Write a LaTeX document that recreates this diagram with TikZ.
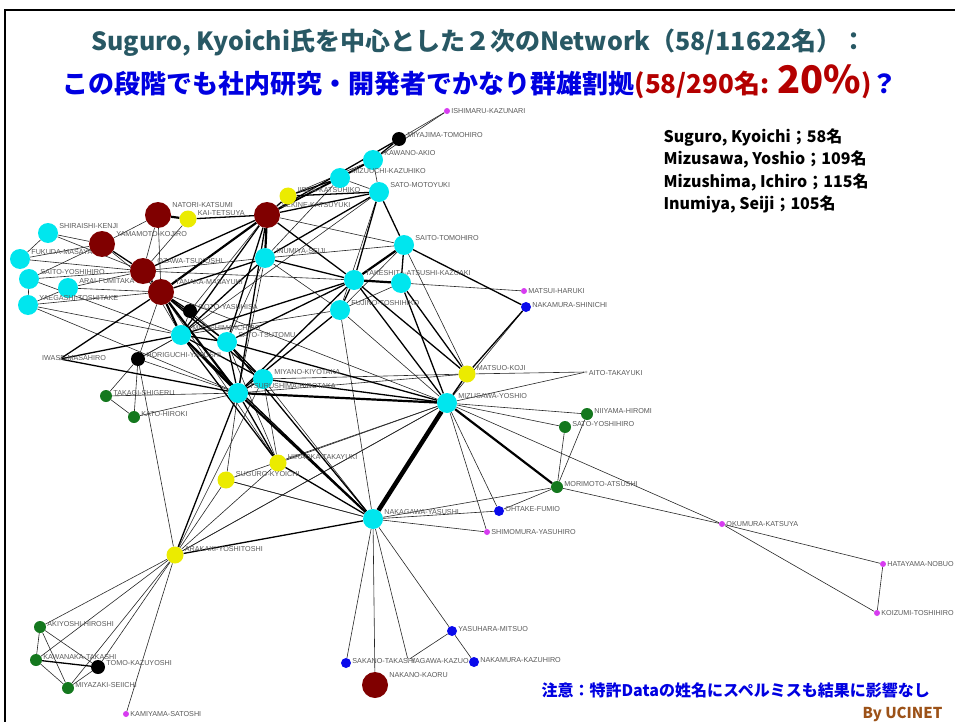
\documentclass[tikz,border=0pt]{standalone}
\usepackage{fontspec}
\newfontfamily\jpfont{Noto Sans CJK JP}
\newfontfamily\tagfont{Liberation Sans}
\usetikzlibrary{backgrounds}
\definecolor{headteal}{RGB}{40,88,100}
\definecolor{headblue}{RGB}{0,0,225}
\definecolor{headred}{RGB}{180,0,0}
\definecolor{bybrown}{RGB}{156,82,24}
\definecolor{dotmaroon}{RGB}{128,0,0}
\definecolor{dotyellow}{RGB}{235,235,0}
\definecolor{dotcyan}{RGB}{0,230,238}
\definecolor{dotgreen}{RGB}{20,120,30}
\definecolor{dotblue}{RGB}{10,10,235}
\definecolor{dotpink}{RGB}{215,60,240}
\begin{document}
\begin{tikzpicture}[x=1pt,y=-1pt,
    mrdot/.style={circle,fill=dotmaroon,inner sep=0pt,minimum size=26pt},
    yldot/.style={circle,fill=dotyellow,inner sep=0pt,minimum size=17pt},
    cydot/.style={circle,fill=dotcyan,inner sep=0pt,minimum size=20pt},
    bkdot/.style={circle,fill=black,inner sep=0pt,minimum size=14pt},
    grdot/.style={circle,fill=dotgreen,inner sep=0pt,minimum size=12pt},
    bldot/.style={circle,fill=dotblue,inner sep=0pt,minimum size=10pt},
    mgdot/.style={circle,fill=dotpink,inner sep=0pt,minimum size=6pt},
    ghdot/.style={circle,fill=black!25,inner sep=0pt,minimum size=3pt},
    tag/.style={font=\tagfont\fontsize{7.2}{7.2}\selectfont,text=black!65,inner sep=0pt,anchor=west},
    tie1/.style={line width=0.6pt,black!85},
    tie2/.style={line width=1.3pt},
    tie3/.style={line width=2.2pt},
    tie5/.style={line width=4.5pt}]
  \useasboundingbox (0,0) rectangle (955,722);
  \draw[line width=2.5pt] (5,722) -- (5,10) -- (955,10);

  % headings
  \node[font=\jpfont\bfseries\fontsize{25}{25}\selectfont,text=headteal] (head1) at (479,43)
    {Suguro, Kyoichi氏を中心とした２次のNetwork（58/11622名）：};
  \node[font=\jpfont\bfseries\fontsize{26}{26}\selectfont] (head2) at (480,82)
    {\color{headblue}この段階でも社内研究・開発者でかなり群雄割拠\color{headred}(58/290名: {\fontsize{38}{38}\selectfont 20\%})\color{headblue}？};
  \node[font=\jpfont\bfseries\fontsize{16}{22.5}\selectfont,align=left,anchor=north west] (key) at (660,125)
    {Suguro, Kyoichi；58名\\Mizusawa, Yoshio；109名\\Mizushima, Ichiro；115名\\Inumiya, Seiji；105名};

  % people
  \foreach \n/\x/\y/\s/\t in {
      m1/158/215/mrdot/NATORI-KATSUMI, m2/267/215/mrdot/SEKINE-KATSUYUKI,
      m3/102/244/mrdot/YAMAMOTO-KOJIRO, m4/143/271/mrdot/OZAWA-TSUYOSHI,
      m5/161/292/mrdot/TANAKA-MASAYUKI, m6/375/685/mrdot/NAKANO-KAORU,
      y1/188/219/yldot/KAI-TETSUYA, y2/288/196/yldot/IIEDA-KATSUHIKO,
      y3/467/374/yldot/MATSUO-KOJI, y4/278/463/yldot/HIRAOKA-TAKAYUKI,
      y5/226/480/yldot/SUGURO-KYOICHI, y6/175/555/yldot/ARAKAKI-YOSHITOSHI,
      c1/48/233/cydot/SHIRAISHI-KENJI, c2/20/259/cydot/FUKUDA-MASAYA,
      c3/29/279/cydot/SAITO-YOSHIHIRO, c4/68/288/cydot/ARAI-FUMITAKA,
      c5/28/305/cydot/YAEGASHI-TOSHITAKE, c6/373/160/cydot/KAWANO-AKIO,
      c7/340/178/cydot/MIZUUCHI-KAZUHIKO, c8/379/192/cydot/SATO-MOTOYUKI,
      c9/404/245/cydot/SAITO-TOMOHIRO, c10/265/258/cydot/INUMIYA-SEIJI,
      c11/354/280/cydot/TAKESHITA-ATSUSHI-KAZUAKI, c13/340/310/cydot/FUJINO-TOSHIHIKO,
      c14/181/335/cydot/MIZUSHIMA-ICHIRO, c15/227/342/cydot/SATO-TSUTOMU,
      c16/263/379/cydot/MIYANO-KIYOTAKA, c17/238/393/cydot/TSURUSHIMA-HIROTAKA,
      c18/447/403/cydot/MIZUSAWA-YOSHIO, c19/373/519/cydot/NAKAGAWA-YASUSHI,
      b1/399/139/bkdot/MIYAJIMA-TOMOHIRO, b2/190/311/bkdot/GOTO-YASUHISA,
      b3/138/359/bkdot/HORIGUCHI-YASUSHI, b4/98/667/bkdot/TOMO-KAZUYOSHI,
      g1/106/396/grdot/TAKAGI-SHIGERU, g2/134/417/grdot/KATO-HIROKI,
      g3/587/414/grdot/NIIYAMA-HIROMI, g4/565/427/grdot/SATO-YOSHIHIRO,
      g5/557/487/grdot/MORIMOTO-ATSUSHI, g6/40/627/grdot/AKIYOSHI-HIROSHI,
      g7/36/660/grdot/KAWANAKA-TAKASHI, g8/68/688/grdot/MIYAZAKI-SEIICHI,
      n1/526/307/bldot/NAKAMURA-SHINICHI, n2/499/511/bldot/OHTAKE-FUMIO,
      n3/452/631/bldot/YASUHARA-MITSUO, n4/346/663/bldot/SAKANO-TAKASHI,
      n5/474/662/bldot/NAKAMURA-KAZUHIRO,
      p1/447/111/mgdot/ISHIMARU-KAZUNARI, p2/524/291/mgdot/MATSUI-HARUKI,
      p3/487/532/mgdot/SHIMOMURA-YASUHIRO, p4/722/524/mgdot/OKUMURA-KATSUYA,
      p5/883/564/mgdot/HATAYAMA-NOBUO, p6/877/613/mgdot/KOIZUMI-TOSHIHIRO,
      p7/126/714/mgdot/KAMIYAMA-SATOSHI,
      h1/586/372/ghdot/AITO-TAKAYUKI, h2/408/660/ghdot/YAGAWA-KAZUO}
  {
    \node[\s] (\n) at (\x,\y) {};
    \path (\n.east |- \n.north) ++(1,3) node[tag] {\t};
  }
  \node[cydot] (c12) at (401,283) {};
  \node[ghdot] (iw) at (60,359) {};
  \node[tag] (iwtag) at (42,358) {IWASE-MASAHIRO};

  % ties
  \begin{pgfonlayer}{background}
    \foreach \a/\b in {p1/c6, c6/c8, c6/y2, c7/c8, c7/c10, c8/c13, c8/c14,
        c9/m2, c9/c10, c9/y3, c9/c13, c10/c15, c10/c13, c10/c17, c10/m4,
        c11/m4, c12/p2, c12/c13, c13/c14, c13/c18, c13/c19, m1/m4, m1/m3,
        m1/m5, y1/m4, m2/b2, m3/c1, m3/c2, m3/c3, m3/m5, m4/c2, m4/c3,
        m4/c4, m4/c14, m5/c4, m5/c5, m5/y4, m5/c18, c1/c2, c1/m4, c3/c5,
        c4/c5, c5/c14, c5/c17, c3/c14, b2/c14, b2/c15, c14/b3, c15/y4,
        b3/c17, b3/c14, b3/g2, b3/y6, b3/m5, g1/g2, g1/c17, g2/c17, g1/b3,
        c16/c19, c16/y4, c17/y5, c18/g3, c18/g4, c18/n2, c18/p3, c18/h1,
        c18/y4, c18/y6, c18/n1, c18/p4, c18/y5, y3/h1, y3/c19, y3/c16,
        y3/c17, g5/g4, g5/g3, g5/p4, g5/n2, g5/c19, p4/p5, p4/p6, p5/p6,
        c19/n2, c19/p3, c19/n4, c19/m6, c19/h2, c19/n3, n3/n5, n3/h2,
        c19/y5, y6/g6, y6/g7, y6/b4, y6/g8, y6/p7, y6/c18, y6/y4, y6/y5,
        y6/c16, g6/g7, g6/g8, g6/b4, g7/g8, g8/b4, y5/c19, p1/b1}
      \draw[tie1] (\a) -- (\b);
    \foreach \a/\b in {b1/c6, b1/m2, c6/c7, c6/m2, c7/y2, c7/m2, c8/m2,
        c8/c9, c8/c11, c8/c10, c8/y2, c9/c12, c9/n1, c10/c11, c10/c14,
        c10/m5, c11/m2, c11/c14, c11/c15, c11/c17, c11/c18, c11/c13,
        c11/y3, c12/y3, c12/c18, c13/c17, y1/m2, m2/m4, m2/c14, m2/c15,
        m2/c17, m2/y2, m3/m4, m5/c15, m5/b2, m5/c16, c14/c15, c14/c16,
        c14/iw, c14/y4, c14/c19, c15/c17, c15/c16, c15/c18, iw/m5, iw/c17,
        c16/c17, c16/c18, c17/y4, c17/y6, c18/y3, y3/n1, c19/y4, c19/y6,
        c19/c15, g7/b4}
      \draw[tie2] (\a) -- (\b);
    \foreach \a/\b in {c9/c11, c11/c12, m1/y1, m2/c10, m2/m5, m4/m5,
        m5/c14, m5/c17, c14/c17, c17/c18, c17/c19, c18/g5}
      \draw[tie3] (\a) -- (\b);
    \draw[tie5] (c18) -- (c19);
  \end{pgfonlayer}

  % notes
  \node[font=\jpfont\bfseries\fontsize{16}{16}\selectfont,text=headblue,anchor=west] (warn) at (538,690)
    {注意：特許Dataの姓名にスペルミスも結果に影響なし};
  \node[font=\jpfont\bfseries\fontsize{15}{15}\selectfont,text=bybrown,anchor=east] (credit) at (946,714)
    {By UCINET};
\end{tikzpicture}
\end{document}
